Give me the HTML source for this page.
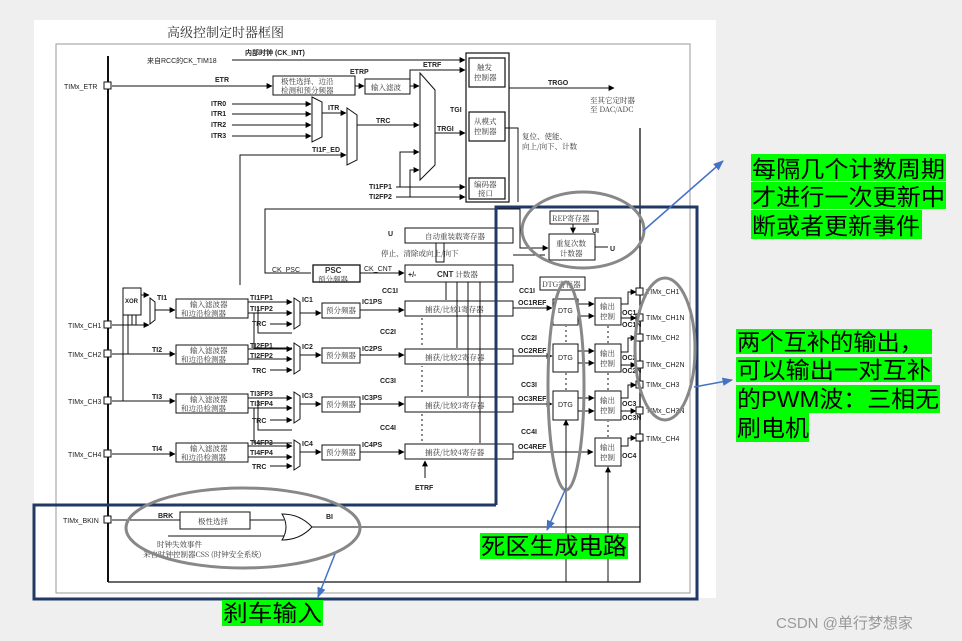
<!DOCTYPE html>
<html><head><meta charset="utf-8"><style>
html,body{margin:0;padding:0;background:#efefef;}
svg{display:block;}
.t{font-family:"Liberation Sans","Noto Sans CJK SC",sans-serif;font-size:7px;fill:#222;font-weight:bold}
.c{font-family:"Noto Serif CJK SC","Noto Sans CJK SC",serif;font-size:7.5px;fill:#333}
.g{font-family:"Liberation Sans","Noto Sans CJK SC",sans-serif;font-size:23px;fill:#000}
</style></head><body>
<svg width="962" height="641" viewBox="0 0 962 641" xmlns="http://www.w3.org/2000/svg">
<defs>
<marker id="a" viewBox="0 0 10 10" refX="9" refY="5" markerWidth="6" markerHeight="6" orient="auto"><path d="M0,0L10,5L0,10z" fill="#000"/></marker>
<marker id="b" viewBox="0 0 10 10" refX="9" refY="5" markerWidth="7" markerHeight="7" orient="auto"><path d="M0,1L10,5L0,9z" fill="#4472c4"/></marker>
</defs>
<rect x="0" y="0" width="962" height="641" fill="#efefef"/>
<rect x="34" y="20" width="682" height="578" fill="#fff"/>
<text x="167" y="37" style="font-family:'Noto Serif CJK SC',serif;font-size:13px;fill:#333">高级控制定时器框图</text>
<rect x="56" y="44" width="634" height="549" fill="none" stroke="#999" stroke-width="1"/>
<g stroke="#111" stroke-width="1" fill="none">
<line x1="108" y1="56" x2="108" y2="582" stroke-width="2"/>
<polyline points="108,582 640,582 640,128" stroke-width="1.3"/>
<!-- top -->
<line x1="232" y1="60" x2="465" y2="60" marker-end="url(#a)"/>
<line x1="112" y1="86" x2="272" y2="86" marker-end="url(#a)"/>
<rect x="273" y="76" width="82" height="19"/>
<line x1="355" y1="86" x2="364" y2="86" marker-end="url(#a)"/>
<rect x="365" y="79" width="45" height="15"/>
<line x1="410" y1="86" x2="419" y2="86" marker-end="url(#a)"/>
<polyline points="410,86 410,70 465,70" marker-end="url(#a)"/>
<polygon points="420,73 435,90 435,165 420,180"/>
<line x1="232" y1="104" x2="311" y2="104" marker-end="url(#a)"/>
<line x1="232" y1="114" x2="311" y2="114" marker-end="url(#a)"/>
<line x1="232" y1="125" x2="311" y2="125" marker-end="url(#a)"/>
<line x1="232" y1="136" x2="311" y2="136" marker-end="url(#a)"/>
<polygon points="312,97 322,102 322,137 312,142"/>
<line x1="322" y1="113" x2="346" y2="113" marker-end="url(#a)"/>
<polygon points="347,108 357,115 357,160 347,165"/>
<polyline points="240,285 240,155 346,155" marker-end="url(#a)"/>
<line x1="357" y1="125" x2="419" y2="125" marker-end="url(#a)"/>
<line x1="435" y1="133" x2="465" y2="133" marker-end="url(#a)"/>
<line x1="396" y1="187" x2="465" y2="187" marker-end="url(#a)"/>
<line x1="396" y1="197" x2="465" y2="197" marker-end="url(#a)"/>
<polyline points="400,187 400,152 419,152" marker-end="url(#a)"/>
<polyline points="410,197 410,170 419,170" marker-end="url(#a)"/>
<rect x="466" y="53" width="43" height="149" stroke-width="1.2"/>
<rect x="469" y="58" width="36" height="29" stroke-width="1.2"/>
<rect x="469" y="112" width="36" height="29" stroke-width="1.2"/>
<rect x="469" y="178" width="36" height="21" stroke-width="1.2"/>
<line x1="509" y1="88" x2="614" y2="88" marker-end="url(#a)"/>
<polyline points="505,128 518,128 518,202"/>
<!-- loop -->
<polyline points="311,273 265,273 265,209 520,209 520,248 548,248" marker-end="url(#a)"/>
<rect x="405" y="228" width="108" height="15"/>
<rect x="313" y="265" width="47" height="17" stroke-width="1.3"/>
<line x1="360" y1="273" x2="404" y2="273" marker-end="url(#a)"/>
<rect x="405" y="265" width="108" height="17"/>
<line x1="513" y1="255" x2="545" y2="255"/>
<polyline points="436,243 436,262 444,262 444,243"/>
<rect x="550" y="211" width="48" height="13"/>
<line x1="573" y1="224" x2="573" y2="233" marker-end="url(#a)"/>
<rect x="549" y="234" width="46" height="26"/>
<line x1="595" y1="247" x2="608" y2="247"/>
<rect x="540" y="277" width="45" height="13"/>
<!-- channels -->
<line x1="112" y1="325" x2="149" y2="325" marker-end="url(#a)"/>
<rect x="123" y="288" width="18" height="27"/>
<line x1="141" y1="295" x2="149" y2="295" marker-end="url(#a)"/>
<polyline points="132,315 132,325"/>
<polyline points="136,315 136,325"/>
<polyline points="128,315 128,354 112,354"/>
<polyline points="123,315 123,401 112,401"/>
<polygon points="150,298 155,302 155,320 150,324"/>
<line x1="155" y1="310" x2="175" y2="310" marker-end="url(#a)"/>
<line x1="112" y1="354" x2="175" y2="354" marker-end="url(#a)"/>
<line x1="112" y1="401" x2="175" y2="401" marker-end="url(#a)"/>
<line x1="112" y1="454" x2="175" y2="454" marker-end="url(#a)"/>
<rect x="176" y="299" width="72" height="19"/>
<rect x="176" y="345" width="72" height="19"/>
<rect x="176" y="394" width="72" height="19"/>
<rect x="176" y="443" width="72" height="19"/>
<g id="row">
</g>
</g>
<g stroke="#111" stroke-width="1" fill="none">
<!-- row generic via repeated elements -->
<line x1="248" y1="302" x2="292" y2="302" marker-end="url(#a)"/><line x1="248" y1="313" x2="292" y2="313" marker-end="url(#a)"/><line x1="270" y1="324" x2="292" y2="324" marker-end="url(#a)"/>
<polygon points="294,298 300,302 300,325 294,329"/><line x1="300" y1="313" x2="321" y2="313" marker-end="url(#a)"/>
<rect x="322" y="303" width="38" height="15"/><line x1="360" y1="310" x2="404" y2="310" marker-end="url(#a)"/><rect x="405" y="301" width="108" height="15"/>

<line x1="248" y1="349" x2="292" y2="349" marker-end="url(#a)"/><line x1="248" y1="359" x2="292" y2="359" marker-end="url(#a)"/><line x1="270" y1="370" x2="292" y2="370" marker-end="url(#a)"/>
<polygon points="294,343 300,347 300,370 294,374"/><line x1="300" y1="355" x2="321" y2="355" marker-end="url(#a)"/>
<rect x="322" y="348" width="38" height="15"/><line x1="360" y1="355" x2="404" y2="355" marker-end="url(#a)"/><rect x="405" y="349" width="108" height="15"/>

<line x1="248" y1="398" x2="292" y2="398" marker-end="url(#a)"/><line x1="248" y1="408" x2="292" y2="408" marker-end="url(#a)"/><line x1="270" y1="420" x2="292" y2="420" marker-end="url(#a)"/>
<polygon points="294,392 300,396 300,419 294,423"/><line x1="300" y1="404" x2="321" y2="404" marker-end="url(#a)"/>
<rect x="322" y="397" width="38" height="15"/><line x1="360" y1="404" x2="404" y2="404" marker-end="url(#a)"/><rect x="405" y="397" width="108" height="15"/>

<line x1="248" y1="446" x2="292" y2="446" marker-end="url(#a)"/><line x1="248" y1="457" x2="292" y2="457" marker-end="url(#a)"/><line x1="270" y1="466" x2="292" y2="466" marker-end="url(#a)"/>
<polygon points="294,440 300,444 300,466 294,470"/><line x1="300" y1="452" x2="321" y2="452" marker-end="url(#a)"/>
<rect x="322" y="445" width="38" height="15"/><line x1="360" y1="452" x2="404" y2="452" marker-end="url(#a)"/><rect x="405" y="444" width="108" height="15"/>

<polyline points="254,313 254,348 292,348"/><polyline points="258,306 258,333 292,333"/>
<polyline points="254,408 254,443 292,443"/><polyline points="258,400 258,430 292,430"/>
<line x1="425" y1="478" x2="425" y2="461" marker-end="url(#a)"/>
<line x1="422" y1="345" x2="422" y2="318" stroke-dasharray="2,3"/>
<line x1="422" y1="392" x2="422" y2="366" stroke-dasharray="2,3"/>
<line x1="422" y1="441" x2="422" y2="414" stroke-dasharray="2,3"/>
<line x1="446" y1="282" x2="446" y2="300"/><line x1="457" y1="282" x2="457" y2="348"/><line x1="468" y1="282" x2="468" y2="396"/><line x1="480" y1="282" x2="480" y2="443"/>
<!-- outputs -->
<line x1="513" y1="308" x2="552" y2="308" marker-end="url(#a)"/>
<line x1="513" y1="356" x2="552" y2="356" marker-end="url(#a)"/>
<line x1="513" y1="404" x2="552" y2="404" marker-end="url(#a)"/>
<line x1="513" y1="452" x2="593" y2="452" marker-end="url(#a)"/>
<rect x="553" y="299" width="25" height="26"/><rect x="553" y="344" width="25" height="28"/><rect x="553" y="391" width="25" height="29"/>
<rect x="595" y="298" width="26" height="27"/><rect x="595" y="344" width="26" height="28"/><rect x="595" y="391" width="26" height="29"/><rect x="595" y="438" width="26" height="28"/>
<line x1="578" y1="304" x2="594" y2="304" marker-end="url(#a)"/><line x1="578" y1="316" x2="594" y2="316" marker-end="url(#a)"/>
<line x1="578" y1="351" x2="594" y2="351" marker-end="url(#a)"/><line x1="578" y1="363" x2="594" y2="363" marker-end="url(#a)"/>
<line x1="578" y1="398" x2="594" y2="398" marker-end="url(#a)"/><line x1="578" y1="411" x2="594" y2="411" marker-end="url(#a)"/>
<polyline points="621,304 628,304 628,292 636,292" marker-end="url(#a)"/><line x1="621" y1="318" x2="636" y2="318" marker-end="url(#a)"/>
<polyline points="621,352 628,352 628,338 636,338" marker-end="url(#a)"/><line x1="621" y1="365" x2="636" y2="365" marker-end="url(#a)"/>
<polyline points="621,398 628,398 628,385 636,385" marker-end="url(#a)"/><line x1="621" y1="411" x2="636" y2="411" marker-end="url(#a)"/>
<polyline points="621,446 628,446 628,438 636,438" marker-end="url(#a)"/>
<line x1="566" y1="582" x2="566" y2="420" marker-end="url(#a)"/>
<line x1="566" y1="390" x2="566" y2="373" stroke-dasharray="2,3"/><line x1="566" y1="342" x2="566" y2="326" stroke-dasharray="2,3"/>
<polyline points="140,582 140,582"/>
<line x1="608" y1="582" x2="608" y2="467" marker-end="url(#a)"/>
<line x1="608" y1="437" x2="608" y2="421" stroke-dasharray="2,3"/><line x1="608" y1="390" x2="608" y2="373" stroke-dasharray="2,3"/><line x1="608" y1="343" x2="608" y2="326" stroke-dasharray="2,3"/>
<!-- brake -->
<line x1="112" y1="520" x2="180" y2="520"/>
<rect x="180" y="512" width="70" height="17"/>
<line x1="250" y1="520" x2="284" y2="520"/>
<line x1="168" y1="536" x2="284" y2="536"/>
<path d="M282,514 Q300,514 312,527 Q300,540 282,540 Q290,527 282,514z"/>
<line x1="312" y1="527" x2="640" y2="527"/>
</g>
<g fill="#fff" stroke="#111">
<rect x="104" y="82" width="7" height="7"/><rect x="104" y="321" width="7" height="7"/><rect x="104" y="350" width="7" height="7"/><rect x="104" y="397" width="7" height="7"/><rect x="104" y="450" width="7" height="7"/><rect x="104" y="516" width="7" height="7"/>
<rect x="636" y="288" width="7" height="7"/><rect x="636" y="314" width="7" height="7"/><rect x="636" y="334" width="7" height="7"/><rect x="636" y="361" width="7" height="7"/><rect x="636" y="381" width="7" height="7"/><rect x="636" y="407" width="7" height="7"/><rect x="636" y="434" width="7" height="7"/>
</g>
<g class="t">
<text x="147" y="63" font-weight="normal">来自RCC的CK_TIM18</text><text x="245" y="55">内部时钟 (CK_INT)</text>
<text x="64" y="89" font-weight="normal">TIMx_ETR</text><text x="215" y="82">ETR</text><text x="350" y="74">ETRP</text><text x="423" y="67">ETRF</text>
<text x="211" y="106">ITR0</text><text x="211" y="116">ITR1</text><text x="211" y="127">ITR2</text><text x="211" y="138">ITR3</text>
<text x="328" y="110">ITR</text><text x="376" y="123">TRC</text><text x="312" y="152">TI1F_ED</text>
<text x="450" y="112">TGI</text><text x="437" y="131">TRGI</text><text x="369" y="189">TI1FP1</text><text x="369" y="199">TI2FP2</text>
<text x="548" y="85">TRGO</text>
<text x="272" y="272" font-weight="normal">CK_PSC</text><text x="364" y="271" font-weight="normal">CK_CNT</text><text x="408" y="277">+/-</text>
<text x="592" y="233">UI</text><text x="610" y="251">U</text><text x="388" y="236">U</text>
<text x="68" y="328" font-weight="normal">TIMx_CH1</text><text x="68" y="357" font-weight="normal">TIMx_CH2</text><text x="68" y="404" font-weight="normal">TIMx_CH3</text><text x="68" y="457" font-weight="normal">TIMx_CH4</text><text x="63" y="523" font-weight="normal">TIMx_BKIN</text>
<text x="157" y="300">TI1</text><text x="152" y="352">TI2</text><text x="152" y="399">TI3</text><text x="152" y="451">TI4</text>
<text x="250" y="300">TI1FP1</text><text x="250" y="311">TI1FP2</text><text x="252" y="326">TRC</text>
<text x="250" y="348">TI2FP1</text><text x="250" y="358">TI2FP2</text><text x="252" y="373">TRC</text>
<text x="250" y="396">TI3FP3</text><text x="250" y="406">TI3FP4</text><text x="252" y="423">TRC</text>
<text x="250" y="445">TI4FP3</text><text x="250" y="455">TI4FP4</text><text x="252" y="469">TRC</text>
<text x="302" y="302">IC1</text><text x="302" y="349">IC2</text><text x="302" y="398">IC3</text><text x="302" y="446">IC4</text>
<text x="362" y="304">IC1PS</text><text x="362" y="351">IC2PS</text><text x="362" y="400">IC3PS</text><text x="362" y="447">IC4PS</text>
<text x="382" y="293">CC1I</text><text x="380" y="334">CC2I</text><text x="380" y="383">CC3I</text><text x="380" y="430">CC4I</text>
<text x="519" y="293">CC1I</text><text x="521" y="340">CC2I</text><text x="521" y="387">CC3I</text><text x="521" y="434">CC4I</text>
<text x="518" y="305">OC1REF</text><text x="518" y="353">OC2REF</text><text x="518" y="401">OC3REF</text><text x="518" y="449">OC4REF</text>
<text x="415" y="490">ETRF</text><text x="158" y="518">BRK</text><text x="326" y="519">BI</text>
<text x="622" y="315">OC1</text><text x="622" y="327">OC1N</text><text x="622" y="360">OC2</text><text x="622" y="373">OC2N</text><text x="622" y="406">OC3</text><text x="622" y="420">OC3N</text><text x="622" y="458">OC4</text>
<text x="125" y="303" font-size="6">XOR</text>
<text x="558" y="313" font-weight="normal">DTG</text><text x="558" y="360" font-weight="normal">DTG</text><text x="558" y="407" font-weight="normal">DTG</text>
</g>
<g class="t" font-weight="normal" style="font-weight:normal">
<text x="646" y="294">TIMx_CH1</text><text x="646" y="320">TIMx_CH1N</text><text x="646" y="340">TIMx_CH2</text><text x="646" y="367">TIMx_CH2N</text><text x="646" y="387">TIMx_CH3</text><text x="646" y="413">TIMx_CH3N</text><text x="646" y="441">TIMx_CH4</text>
</g>
<g class="c">
<text x="281" y="84">极性选择、边沿</text><text x="281" y="93">检测和预分频器</text><text x="371" y="90">输入滤波</text>
<text x="477" y="70">触发</text><text x="474" y="80">控制器</text><text x="474" y="124">从模式</text><text x="474" y="134">控制器</text><text x="474" y="187">编码器</text><text x="478" y="196">接口</text>
<text x="590" y="103">至其它定时器</text><text x="590" y="112">至 DAC/ADC</text>
<text x="522" y="139">复位、使能、</text><text x="522" y="149">向上/向下、计数</text>
<text x="425" y="239">自动重装载寄存器</text><text x="381" y="256">停止、清除或向上/向下</text>
<text x="325" y="273" style="font-weight:bold;font-family:'Liberation Sans';font-size:8px">PSC</text><text x="318" y="282">预分频器</text>
<text x="437" y="277"><tspan style="font-weight:bold;font-family:'Liberation Sans';font-size:8px">CNT</tspan> 计数器</text>
<text x="552" y="221">REP寄存器</text><text x="556" y="246">重复次数</text><text x="560" y="256">计数器</text><text x="542" y="287">DTG寄存器</text>
<text x="190" y="307">输入滤波器</text><text x="181" y="316">和边沿检测器</text>
<text x="190" y="353">输入滤波器</text><text x="181" y="362">和边沿检测器</text>
<text x="190" y="402">输入滤波器</text><text x="181" y="411">和边沿检测器</text>
<text x="190" y="451">输入滤波器</text><text x="181" y="460">和边沿检测器</text>
<text x="326" y="313">预分频器</text><text x="326" y="358">预分频器</text><text x="326" y="407">预分频器</text><text x="326" y="455">预分频器</text>
<text x="425" y="312">捕获/比较1寄存器</text><text x="425" y="360">捕获/比较2寄存器</text><text x="425" y="408">捕获/比较3寄存器</text><text x="425" y="455">捕获/比较4寄存器</text>
<text x="600" y="309">输出</text><text x="600" y="319">控制</text><text x="600" y="356">输出</text><text x="600" y="366">控制</text><text x="600" y="403">输出</text><text x="600" y="413">控制</text><text x="600" y="450">输出</text><text x="600" y="460">控制</text>
<text x="198" y="524">极性选择</text>
<text x="157" y="547">时钟失效事件</text><text x="143" y="557">来自时钟控制器CSS (时钟安全系统)</text>
</g>
<!-- navy frames -->
<g fill="none" stroke="#1f3864" stroke-width="3">
<polyline points="496,505 496,207 697,207 697,599 34,599 34,505 496,505"/>
</g>
<!-- ellipses -->
<g fill="none" stroke="#888" stroke-width="3">
<ellipse cx="243" cy="528" rx="117" ry="40"/>
<ellipse cx="583" cy="230" rx="61" ry="38"/>
<ellipse cx="566" cy="386" rx="18" ry="104"/>
<ellipse cx="665" cy="349" rx="30" ry="71"/>
</g>
<g stroke="#4472c4" stroke-width="1.5" fill="none">
<line x1="643" y1="231" x2="723" y2="161" marker-end="url(#b)"/>
<line x1="694" y1="387" x2="732" y2="380" marker-end="url(#b)"/>
<line x1="566" y1="488" x2="547" y2="530" marker-end="url(#b)"/>
<line x1="335" y1="554" x2="318" y2="597" marker-end="url(#b)"/>
</g>
<!-- green labels -->
<g fill="#00ff00">
<rect x="751" y="154" width="195" height="27"/><rect x="751" y="182" width="195" height="27"/><rect x="751" y="210" width="171" height="29"/>
<rect x="736" y="329" width="196" height="25"/><rect x="736" y="357" width="196" height="25"/><rect x="736" y="385" width="204" height="28"/><rect x="736" y="413" width="73" height="29"/>
<rect x="480" y="533" width="148" height="26"/>
<rect x="222" y="600" width="101" height="26"/>
</g>
<g class="g">
<text x="752" y="177" textLength="193" lengthAdjust="spacingAndGlyphs">每隔几个计数周期</text>
<text x="752" y="205" textLength="193" lengthAdjust="spacingAndGlyphs">才进行一次更新中</text>
<text x="752" y="234" textLength="168" lengthAdjust="spacingAndGlyphs">断或者更新事件</text>
<text x="737" y="350" textLength="186" lengthAdjust="spacingAndGlyphs">两个互补的输出，</text>
<text x="737" y="378" textLength="194" lengthAdjust="spacingAndGlyphs">可以输出一对互补</text>
<text x="737" y="407" textLength="202" lengthAdjust="spacingAndGlyphs">的PWM波：三相无</text>
<text x="737" y="436" textLength="72" lengthAdjust="spacingAndGlyphs">刷电机</text>
<text x="481" y="554" textLength="146" lengthAdjust="spacingAndGlyphs">死区生成电路</text>
<text x="223" y="621" textLength="99" lengthAdjust="spacingAndGlyphs">刹车输入</text>
</g>
<text x="776" y="628" style="font-family:'Liberation Sans','Noto Sans CJK SC',sans-serif;font-size:15px;fill:#999">CSDN @单行梦想家</text>
</svg>
</body></html>
